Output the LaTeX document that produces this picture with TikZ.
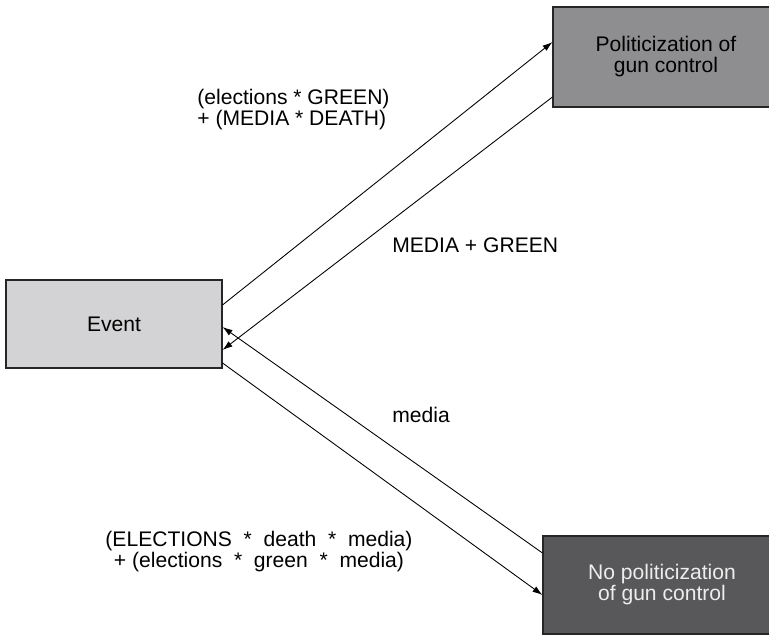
\documentclass[tikz,border=0pt]{standalone}
\usepackage{fontspec}
\setmainfont{Liberation Sans}
\usetikzlibrary{arrows.meta}
\definecolor{lightbox}{HTML}{D3D3D5}
\definecolor{midbox}{HTML}{8E8E90}
\definecolor{darkbox}{HTML}{58585A}
\begin{document}
\begin{tikzpicture}
  [block/.style={rectangle,draw=black!85,line width=0.6pt,align=center,
                 font=\fontsize{12}{12}\selectfont},
   lbl/.style={inner sep=0pt,font=\fontsize{12}{12}\selectfont},
   link/.style={line width=0.5pt,-{Latex[length=2mm,width=1.3mm]}}]
\useasboundingbox (0,0) rectangle (15.38,12.7); % fix page size
\clip (0,0) rectangle (15.38,12.7);
\node at (2.28,6.22) (event) [block, fill=lightbox, minimum width=4.32cm, minimum height=1.76cm] {Event};
\node at (13.32,11.56) (pol) [block, fill=midbox, minimum width=4.52cm, minimum height=2cm] {Politicization of\\gun control};
\node at (13.24,1.0) (nopol) [block, fill=darkbox, text=white!93!black, minimum width=4.76cm, minimum height=1.96cm] {No politicization\\of gun control};
%
\draw [link] ([yshift=0.38cm]event.east) -- ([yshift=0.3cm]pol.west);
\draw [link] ([yshift=-0.8cm]pol.west) -- ([yshift=-0.52cm]event.east);
\draw [link] ([yshift=0.64cm]nopol.west) -- ([yshift=-0.06cm]event.east);
\draw [link] ([yshift=-0.78cm]event.east) -- ([yshift=-0.2cm]nopol.west);
%
\node at (3.94,10.5) (lblup) [lbl, anchor=west, align=left] {(elections * GREEN)\\+ (MEDIA * DEATH)};
\node at (7.84,7.8) (lbldown) [lbl, anchor=west] {MEDIA + GREEN};
\node at (7.84,4.4) (lblback) [lbl, anchor=west] {media};
\node at (5.18,1.66) (lblno) [lbl, align=center] {(ELECTIONS\ \ *\ \ death\ \ *\ \ media)\\+ (elections\ \ *\ \ green\ \ *\ \ media)};
\end{tikzpicture}
\end{document}
